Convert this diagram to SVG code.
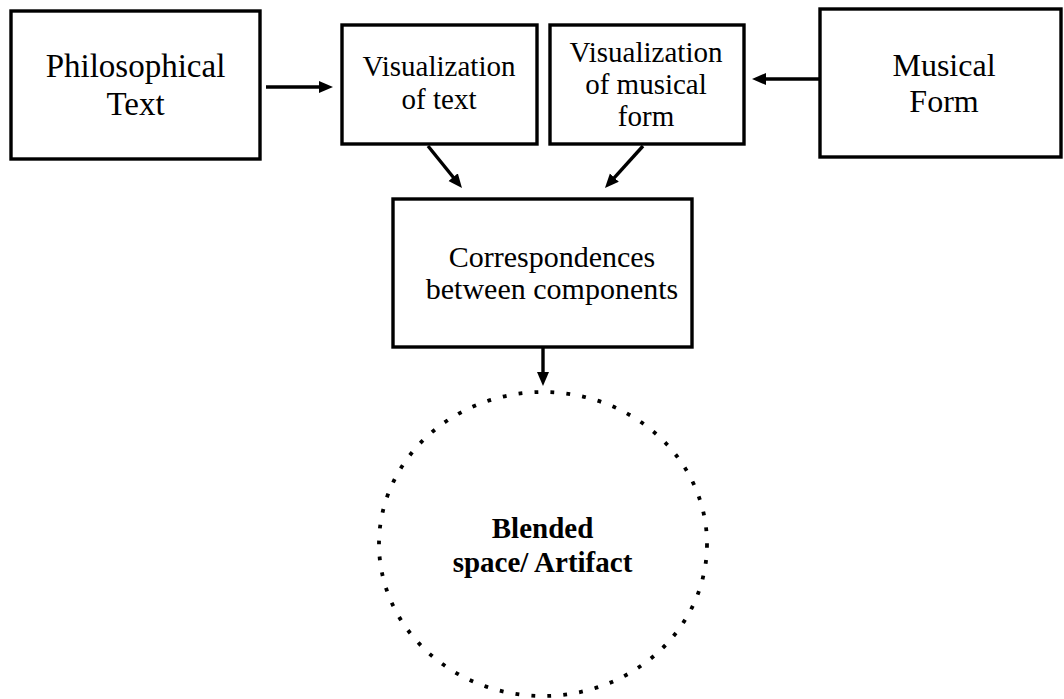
<svg xmlns="http://www.w3.org/2000/svg" width="1064" height="699" viewBox="0 0 1064 699">
  <style>
    .box { fill: #ffffff; stroke: #000000; stroke-width: 3.4; }
    .lbl { font-family: "Liberation Serif", "Times New Roman", serif; fill: #000000; text-anchor: middle; }
    .conn { stroke: #000000; stroke-width: 3.4; fill: none; }
    .blend { fill: none; stroke: #000000; stroke-width: 3.8; stroke-dasharray: 3.8 12.2; }
  </style>
  <defs>
    <marker id="head" markerUnits="userSpaceOnUse" markerWidth="15" markerHeight="13" refX="5" refY="6" orient="auto">
      <path d="M0,0 L14,6 L0,12 z" fill="#000000"/>
    </marker>
  </defs>
  <rect width="1064" height="699" fill="#ffffff"/>

  <g id="philosophical-text">
    <rect class="box" x="11" y="11" width="249" height="148"/>
    <text class="lbl" font-size="33" x="135.5" y="77">Philosophical</text>
    <text class="lbl" font-size="33" x="135.5" y="115">Text</text>
  </g>

  <g id="visualization-text">
    <rect class="box" x="342" y="25" width="195" height="119"/>
    <text class="lbl" font-size="29" x="439" y="76">Visualization</text>
    <text class="lbl" font-size="29" x="439" y="109">of text</text>
  </g>

  <g id="visualization-form">
    <rect class="box" x="550" y="25" width="194" height="119"/>
    <text class="lbl" font-size="29" x="646" y="62">Visualization</text>
    <text class="lbl" font-size="29" x="646" y="94">of musical</text>
    <text class="lbl" font-size="29" x="646" y="126">form</text>
  </g>

  <g id="musical-form">
    <rect class="box" x="820" y="9" width="241" height="148"/>
    <text class="lbl" font-size="32" x="944" y="76">Musical</text>
    <text class="lbl" font-size="32" x="944" y="112">Form</text>
  </g>

  <g id="correspondences">
    <rect class="box" x="393" y="199" width="299" height="148"/>
    <text class="lbl" font-size="30" x="552" y="267">Correspondences</text>
    <text class="lbl" font-size="30" x="552" y="299">between components</text>
  </g>

  <g id="blended-space">
    <ellipse class="blend" cx="543" cy="544" rx="164" ry="152"/>
    <text class="lbl" font-size="29" font-weight="bold" x="542.5" y="538">Blended</text>
    <text class="lbl" font-size="29" font-weight="bold" x="542.5" y="572">space/ Artifact</text>
  </g>

  <g id="connectors">
    <line class="conn" x1="266" y1="87" x2="324" y2="87" marker-end="url(#head)"/>
    <line class="conn" x1="820" y1="79" x2="761" y2="79" marker-end="url(#head)"/>
    <line class="conn" x1="428" y1="146" x2="456.3" y2="181" marker-end="url(#head)"/>
    <line class="conn" x1="643" y1="146" x2="611" y2="181.3" marker-end="url(#head)"/>
    <line class="conn" x1="543" y1="347" x2="543" y2="377" marker-end="url(#head)"/>
  </g>
</svg>
